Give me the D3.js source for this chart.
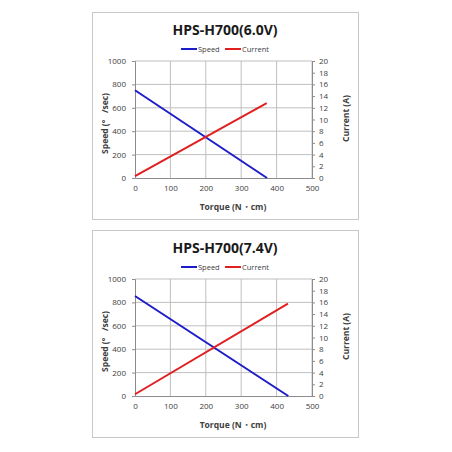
<!DOCTYPE html>
<html>
<head>
<meta charset="utf-8">
<script src="https://cdn.jsdelivr.net/npm/d3@7"></script>
<style>
  body { margin: 0; background: #fff; }
  text { font-family: "Open Sans", "Noto Sans", sans-serif; }
</style>
</head>
<body>
<div id="chart"></div>
<script>
const width = 452, height = 452;

// chart data
const titles = ["HPS-H700(6.0V)", "HPS-H700(7.4V)"];
const torqueTicks = [0, 100, 200, 300, 400, 500];
const speedTicks = [0, 200, 400, 600, 800, 1000];
const currentTicks = [0, 2, 4, 6, 8, 10, 12, 14, 16, 18, 20];

// [torque, value]
const speed60 = [[0, 750], [373, 0]];
const current60 = [[0, 0.3], [372, 12.8]];
const speed74 = [[0, 855], [433, 0]];
const current74 = [[0, 0.3], [432, 15.8]];

const panels = [
    { title: titles[0], speed: speed60, current: current60, top: 12 },
    { title: titles[1], speed: speed74, current: current74, top: 230 }
];

const svg = d3.select("#chart")
    .append("svg")
    .attr("width", width)
    .attr("height", height)

const margin = { left: 135, right: 312, top: 49, bottom: 166 }; // relative to panel top

panels.forEach(p => drawPanel(p))

function drawPanel(p) {
    const g = svg.append("g").attr("transform", `translate(0, ${p.top})`)

    g.append("rect")
        .attr("x", 92.5).attr("y", 0.5)
        .attr("width", 266).attr("height", 207)
        .attr("fill", "#fff")
        .attr("stroke", "#c8c8c8")

    const x = d3.scaleLinear().domain([0, 500]).range([margin.left, margin.right])
    const yL = d3.scaleLinear().domain([0, 1000]).range([margin.bottom, margin.top])
    const yR = d3.scaleLinear().domain([0, 20]).range([margin.bottom, margin.top])

    // grid
    g.append("g").selectAll("line.v")
        .data(torqueTicks.slice(1))
        .join("line")
        .attr("x1", d => x(d)).attr("x2", d => x(d))
        .attr("y1", margin.top).attr("y2", margin.bottom)
        .attr("stroke", "#bfbfbf").attr("stroke-width", 1)
    g.append("g").selectAll("line.h")
        .data(speedTicks.slice(1))
        .join("line")
        .attr("x1", margin.left).attr("x2", margin.right)
        .attr("y1", d => yL(d)).attr("y2", d => yL(d))
        .attr("stroke", "#bfbfbf").attr("stroke-width", 1)

    const fmt = d3.format("d")
    const xAxis = g.append("g")
        .attr("transform", `translate(0, ${margin.bottom})`)
        .call(d3.axisBottom(x).tickValues(torqueTicks).tickFormat(fmt).tickSize(0).tickPadding(7))
    const yAxisL = g.append("g")
        .attr("transform", `translate(${margin.left}, 0)`)
        .call(d3.axisLeft(yL).tickValues(speedTicks).tickFormat(fmt).tickSize(3).tickPadding(6))
    const yAxisR = g.append("g")
        .attr("transform", `translate(${margin.right}, 0)`)
        .call(d3.axisRight(yR).tickValues(currentTicks).tickFormat(fmt).tickSize(3).tickPadding(4))

    ;[xAxis, yAxisL, yAxisR].forEach(a => {
        a.select(".domain").attr("stroke", "#8c8c8c")
        a.selectAll(".tick line").attr("stroke", "#8c8c8c")
        a.selectAll("text")
            .attr("font-size", 8)
            .attr("fill", "#404040")
    })

    const line = d3.line().x(d => x(d[0]))

    g.append("path")
        .attr("d", line.y(d => yL(d[1]))(p.speed))
        .attr("fill", "none")
        .attr("stroke", "#1c1cc8")
        .attr("stroke-width", 2)
    g.append("path")
        .attr("d", line.y(d => yR(d[1]))(p.current))
        .attr("fill", "none")
        .attr("stroke", "#e02020")
        .attr("stroke-width", 2)

    // title
    g.append("text")
        .text(p.title)
        .attr("x", 225).attr("y", 23)
        .attr("text-anchor", "middle")
        .attr("font-size", 14)
        .attr("font-weight", "bold")
        .attr("fill", "#1a1a1a")

    // legend
    const legend = [["Speed", "#1c1cc8", 181], ["Current", "#e02020", 225]]
    legend.forEach(([name, c, lx]) => {
        g.append("line")
            .attr("x1", lx).attr("x2", lx + 16)
            .attr("y1", 37).attr("y2", 37)
            .attr("stroke", c).attr("stroke-width", 2)
        g.append("text")
            .text(name)
            .attr("x", lx + 17).attr("y", 40)
            .attr("font-size", 7.5)
            .attr("fill", "#404040")
    })

    // axis titles
    g.append("text")
        .text("Torque (N・cm)")
        .attr("x", 233).attr("y", 198)
        .attr("text-anchor", "middle")
        .attr("font-size", 8.5)
        .attr("font-weight", "bold")
        .attr("fill", "#404040")
    g.append("text")
        .text("Speed (°\u00a0\u00a0\u00a0/sec)")
        .attr("transform", `translate(108, ${(margin.top + margin.bottom) / 2 + 4})rotate(-90)`)
        .attr("text-anchor", "middle")
        .attr("font-size", 8.5)
        .attr("font-weight", "bold")
        .attr("fill", "#404040")
    g.append("text")
        .text("Current (A)")
        .attr("transform", `translate(349, ${(margin.top + margin.bottom) / 2 - 1})rotate(-90)`)
        .attr("text-anchor", "middle")
        .attr("font-size", 8.5)
        .attr("font-weight", "bold")
        .attr("fill", "#404040")
}
</script>
</body>
</html>
